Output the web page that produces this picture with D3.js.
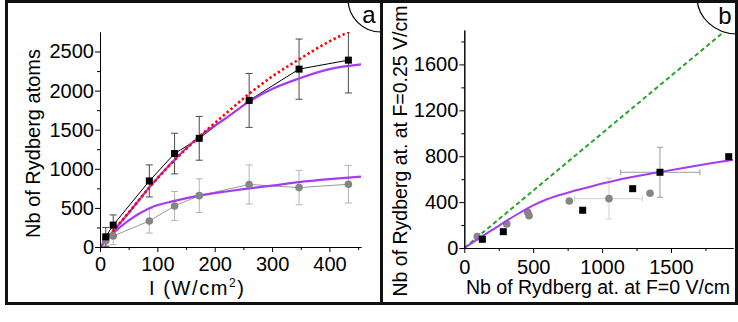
<!DOCTYPE html>
<html>
<head>
<meta charset="utf-8">
<script src="https://cdn.jsdelivr.net/npm/d3@7"></script>
<style>
  body { margin: 0; background: #fff; }
  svg { display: block; }
  text { font-family: "Liberation Sans", Arial, sans-serif; fill: #000; }
  .axis text { font-size: 20px; }
  .axis path, .axis line { stroke: #000; stroke-width: 1; }
</style>
</head>
<body>
<div id="chart"></div>
<script>
// ---- données ----
// panneau a : intensité (W/cm2)
var intensite = [10, 23, 86, 130, 173, 260, 347, 433];
var rydbergF0 = [130, 280, 845, 1195, 1390, 1875, 2275, 2390];
var errF0 = [120, 130, 205, 260, 280, 345, 385, 420];
var rydbergF025 = [80, 140, 333, 525, 657, 800, 760, 802];
var errF025 = [70, 110, 155, 185, 215, 250, 220, 240];

var courbeX = [0, 25, 50, 87, 130, 173, 220, 260, 300, 347, 400, 455];
var modeleF0 = [0, 220, 435, 770, 1115, 1410, 1650, 1860, 2020, 2155, 2275, 2335];
var modeleF025 = [0, 190, 340, 500, 590, 657, 710, 750, 785, 830, 868, 900];
var lineaireX = [0, 25, 50, 87, 130, 173, 220, 260, 300, 347, 400, 433, 455];
var lineaireY = [0, 225, 440, 770, 1110, 1410, 1710, 1960, 2180, 2400, 2630, 2750, 2830];

var ticksAx = [0, 100, 200, 300, 400];
var ticksAy = [0, 500, 1000, 1500, 2000, 2500];

// panneau b : F=0.25 V/cm vs F=0 V/cm
var carresBx = [131, 283, 859, 1222, 1420, 1919];
var carresBy = [76, 142, 329, 517, 660, 796];
var cerclesBx = [94, 308, 460, 470, 762, 1050, 1348];
var cerclesBy = [99, 209, 311, 282, 410, 430, 477];
// barres d'erreur (un seul point par série)
var errCarreB = {i: 4, xlo: 1135, xhi: 1710, ylo: 442, yhi: 878};
var errCercleB = {i: 5, xlo: 800, xhi: 1292, ylo: 253, yhi: 608};

var modeleBx = [0, 100, 200, 300, 400, 500, 600, 750, 900, 1000, 1200, 1400, 1600, 1800, 1950];
var modeleBy = [0, 80, 155, 232, 305, 372, 425, 482, 530, 562, 615, 658, 700, 740, 768];
var diagonale = [0, 1950];

var ticksBx = [0, 500, 1000, 1500];
var ticksBy = [0, 400, 800, 1200, 1600];

var violet = "#a43df0";
var fmt = d3.format("d");

var svg = d3.select("#chart").append("svg")
    .attr("width", 738)
    .attr("height", 322);

// ================= panneau a =================
var xa = d3.scaleLinear().domain([0, 455]).range([100, 361]);
var ya = d3.scaleLinear().domain([0, 2750]).range([247, 32]);

svg.append("clipPath").attr("id", "clipA")
  .append("rect").attr("x", 100).attr("y", 32).attr("width", 265).attr("height", 216);

var pa = svg.append("g").attr("clip-path", "url(#clipA)");

// axes
svg.append("g").attr("class", "axis")
    .attr("transform", "translate(0,247)")
    .call(d3.axisBottom(xa).tickValues(d3.range(50, 455, 100)).tickSize(3).tickSizeOuter(0).tickFormat(""));
svg.append("g").attr("class", "axis")
    .attr("transform", "translate(0,247)")
    .call(d3.axisBottom(xa).tickValues(ticksAx).tickSize(5).tickPadding(5).tickSizeOuter(0).tickFormat(fmt));
svg.append("g").attr("class", "axis")
    .attr("transform", "translate(100,0)")
    .call(d3.axisLeft(ya).tickValues(d3.range(250, 2750, 500)).tickSize(3).tickSizeOuter(0).tickFormat(""));
svg.append("g").attr("class", "axis")
    .attr("transform", "translate(100,0)")
    .call(d3.axisLeft(ya).tickValues(ticksAy).tickSize(5).tickPadding(1).tickSizeOuter(0).tickFormat(fmt));

// barres d'erreur
function barres(g, xs, ys, es, sx, sy, color) {
  xs.forEach(function(x, i) {
    var px = sx(x);
    g.append("line").attr("x1", px).attr("x2", px)
      .attr("y1", sy(ys[i] - es[i])).attr("y2", sy(ys[i] + es[i]))
      .attr("stroke", color).attr("stroke-width", 1);
    [ys[i] - es[i], ys[i] + es[i]].forEach(function(v) {
      g.append("line").attr("x1", px - 3.5).attr("x2", px + 3.5)
        .attr("y1", sy(v)).attr("y2", sy(v))
        .attr("stroke", color).attr("stroke-width", 1);
    });
  });
}
barres(pa, intensite, rydbergF025, errF025, xa, ya, "#b4b4b4");
barres(pa, intensite, rydbergF0, errF0, xa, ya, "#4a4a4a");

var ligne = function(sx, sy) {
  return d3.line().x(function(d) { return sx(d[0]); }).y(function(d) { return sy(d[1]); });
};

// lignes reliant les points
pa.append("path")
    .datum(d3.zip(intensite, rydbergF025))
    .attr("fill", "none").attr("stroke", "#999").attr("stroke-width", 1)
    .attr("d", ligne(xa, ya));
pa.append("path")
    .datum(d3.zip(intensite, rydbergF0))
    .attr("fill", "none").attr("stroke", "#000").attr("stroke-width", 1)
    .attr("d", ligne(xa, ya));

// modèles
pa.append("path")
    .datum(d3.zip(courbeX, modeleF025))
    .attr("fill", "none").attr("stroke", violet).attr("stroke-width", 2.2)
    .attr("d", ligne(xa, ya).curve(d3.curveMonotoneX));
pa.append("path")
    .datum(d3.zip(courbeX, modeleF0))
    .attr("fill", "none").attr("stroke", violet).attr("stroke-width", 2.2)
    .attr("d", ligne(xa, ya).curve(d3.curveMonotoneX));
pa.append("path")
    .datum(d3.zip(lineaireX, lineaireY))
    .attr("fill", "none").attr("stroke", "#ff0000").attr("stroke-width", 2.6)
    .attr("stroke-dasharray", "2.4,2.6")
    .attr("d", ligne(xa, ya).curve(d3.curveMonotoneX));

// points
pa.append("g").selectAll("circle")
    .data(d3.zip(intensite, rydbergF025))
    .enter().append("circle")
    .attr("cx", function(d) { return xa(d[0]); })
    .attr("cy", function(d) { return ya(d[1]); })
    .attr("r", 3.8)
    .attr("fill", "#858585");
pa.append("g").selectAll("rect")
    .data(d3.zip(intensite, rydbergF0))
    .enter().append("rect")
    .attr("x", function(d) { return xa(d[0]) - 3.5; })
    .attr("y", function(d) { return ya(d[1]) - 3.5; })
    .attr("width", 7).attr("height", 7)
    .attr("fill", "#000");

// titres
svg.append("text")
    .attr("transform", "translate(39.5,143.5) rotate(-90)")
    .attr("text-anchor", "middle")
    .style("font-size", "20px")
    .text("Nb of Rydberg atoms");
var titreX = svg.append("text")
    .attr("x", 149).attr("y", 295)
    .style("font-size", "20px")
    .style("letter-spacing", "1.6px");
titreX.append("tspan").text("I (W/cm");
titreX.append("tspan").attr("dy", -8).style("font-size", "12px").text("2");
titreX.append("tspan").attr("dy", 8).text(")");

// ================= panneau b =================
var xb = d3.scaleLinear().domain([0, 1950]).range([464.3, 733]);
var yb = d3.scaleLinear().domain([0, 1900]).range([248, 30]);

svg.append("clipPath").attr("id", "clipB")
  .append("rect").attr("x", 464).attr("y", 30).attr("width", 272).attr("height", 219);

var pb = svg.append("g").attr("clip-path", "url(#clipB)");

svg.append("g").attr("class", "axis")
    .attr("transform", "translate(0,248)")
    .call(d3.axisBottom(xb).tickValues(d3.range(250, 1950, 500)).tickSize(3).tickSizeOuter(0).tickFormat(""));
svg.append("g").attr("class", "axis")
    .attr("transform", "translate(0,248)")
    .call(d3.axisBottom(xb).tickValues(ticksBx).tickSize(5).tickPadding(7).tickSizeOuter(0).tickFormat(fmt));
svg.append("g").attr("class", "axis")
    .attr("transform", "translate(464.3,0)")
    .call(d3.axisLeft(yb).tickValues(d3.range(200, 1900, 400)).tickSize(3).tickSizeOuter(0).tickFormat(""));
svg.append("g").attr("class", "axis")
    .attr("transform", "translate(464.3,0)")
    .call(d3.axisLeft(yb).tickValues(ticksBy).tickSize(5).tickPadding(1).tickSizeOuter(0).tickFormat(fmt));

// diagonale
pb.append("path")
    .datum(d3.zip(diagonale, diagonale))
    .attr("fill", "none").attr("stroke", "#2aa52a").attr("stroke-width", 2)
    .attr("stroke-dasharray", "4.5,3")
    .attr("d", ligne(xb, yb));

// barres d'erreur en croix
function croix(e, xs, ys, color) {
  var px = xb(xs[e.i]), py = yb(ys[e.i]);
  pb.append("line").attr("x1", xb(e.xlo)).attr("x2", xb(e.xhi)).attr("y1", py).attr("y2", py)
    .attr("stroke", color);
  pb.append("line").attr("x1", px).attr("x2", px).attr("y1", yb(e.ylo)).attr("y2", yb(e.yhi))
    .attr("stroke", color);
  [e.xlo, e.xhi].forEach(function(v) {
    pb.append("line").attr("x1", xb(v)).attr("x2", xb(v)).attr("y1", py - 3).attr("y2", py + 3).attr("stroke", color);
  });
  [e.ylo, e.yhi].forEach(function(v) {
    pb.append("line").attr("x1", px - 3).attr("x2", px + 3).attr("y1", yb(v)).attr("y2", yb(v)).attr("stroke", color);
  });
}
croix(errCercleB, cerclesBx, cerclesBy, "#d0d0d0");
croix(errCarreB, carresBx, carresBy, "#9a9a9a");

pb.append("g").selectAll("circle")
    .data(d3.zip(cerclesBx, cerclesBy))
    .enter().append("circle")
    .attr("cx", function(d) { return xb(d[0]); })
    .attr("cy", function(d) { return yb(d[1]); })
    .attr("r", 3.8)
    .attr("fill", "#858585");

pb.append("path")
    .datum(d3.zip(modeleBx, modeleBy))
    .attr("fill", "none").attr("stroke", violet).attr("stroke-width", 2)
    .attr("d", ligne(xb, yb).curve(d3.curveMonotoneX));

pb.append("g").selectAll("rect")
    .data(d3.zip(carresBx, carresBy))
    .enter().append("rect")
    .attr("x", function(d) { return xb(d[0]) - 3.5; })
    .attr("y", function(d) { return yb(d[1]) - 3.5; })
    .attr("width", 7).attr("height", 7)
    .attr("fill", "#000");

svg.append("text")
    .attr("transform", "translate(407,151) rotate(-90)")
    .attr("text-anchor", "middle")
    .style("font-size", "19.5px")
    .text("Nb of Rydberg at. at F=0.25 V/cm");
svg.append("text")
    .attr("x", 466).attr("y", 294)
    .style("font-size", "19.5px")
    .text("Nb of Rydberg at. at F=0 V/cm");

// ================= cadres et étiquettes =================
svg.append("clipPath").attr("id", "clipCadreA")
  .append("rect").attr("x", 0).attr("y", 0).attr("width", 381).attr("height", 322);
svg.append("clipPath").attr("id", "clipCadreB")
  .append("rect").attr("x", 381).attr("y", 0).attr("width", 357).attr("height", 322);

svg.append("circle")
    .attr("clip-path", "url(#clipCadreA)")
    .attr("cx", 381).attr("cy", -1).attr("r", 33)
    .attr("fill", "#fff").attr("stroke", "#000").attr("stroke-width", 1.2);
svg.append("ellipse")
    .attr("clip-path", "url(#clipCadreB)")
    .attr("cx", 737).attr("cy", -3).attr("rx", 40).attr("ry", 37)
    .attr("fill", "#fff").attr("stroke", "#000").attr("stroke-width", 1.2);
svg.append("text").attr("x", 369).attr("y", 22.5)
    .attr("text-anchor", "middle").style("font-size", "24px").text("a");
svg.append("text").attr("x", 725).attr("y", 23.5)
    .attr("text-anchor", "middle").style("font-size", "24px").text("b");

svg.append("rect")
    .attr("x", 6.5).attr("y", 1.5).attr("width", 730).attr("height", 302)
    .attr("fill", "none").attr("stroke", "#111").attr("stroke-width", 3);
svg.append("line")
    .attr("x1", 381.5).attr("x2", 381.5).attr("y1", 0).attr("y2", 305)
    .attr("stroke", "#111").attr("stroke-width", 3);
</script>
</body>
</html>
